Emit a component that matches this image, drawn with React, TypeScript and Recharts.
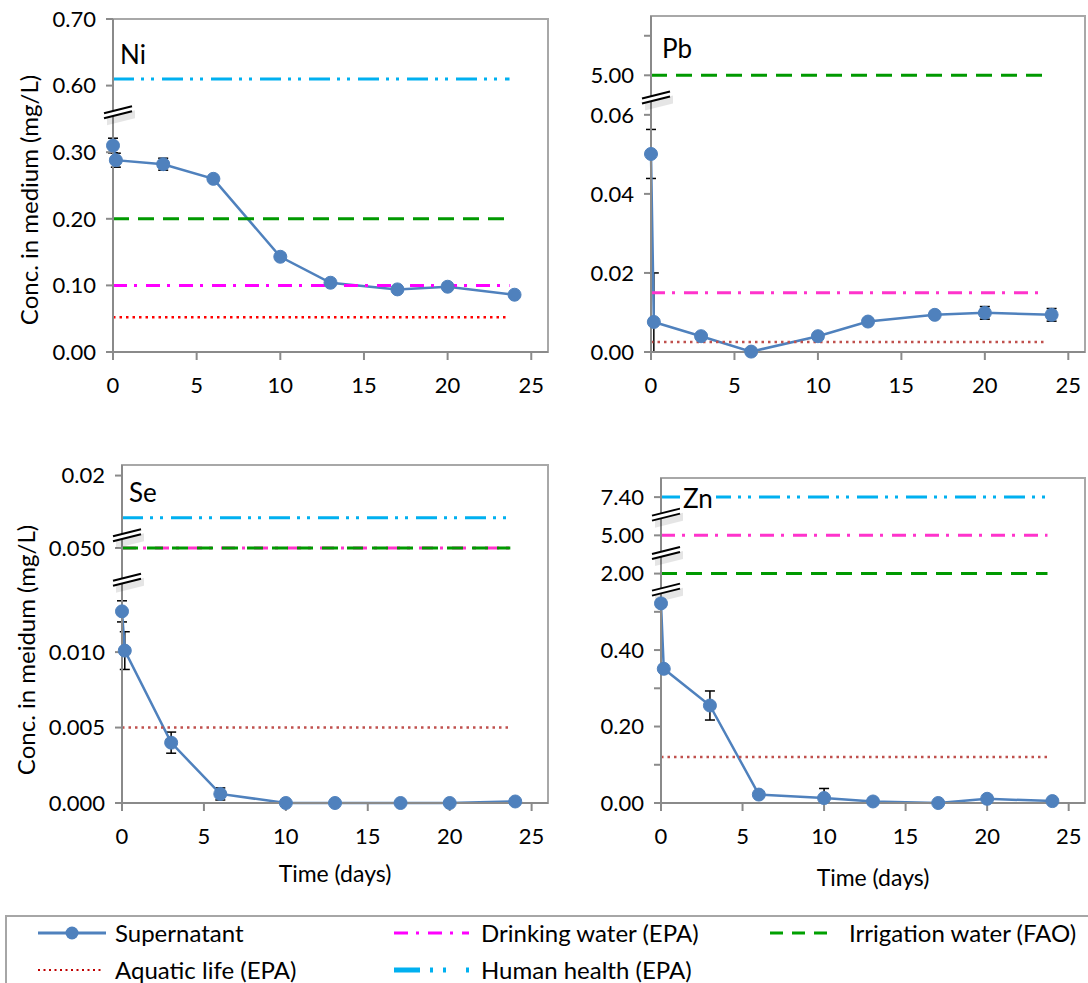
import React from 'react';
import {
  ComposedChart,
  Line,
  XAxis,
  YAxis,
  ReferenceLine,
  ReferenceArea,
  ReferenceDot,
  ErrorBar,
} from 'recharts';

// ---------------- data ----------------
const times = [0, 0.17, 3, 6, 10, 13, 17, 20, 24];
const dayTicks = [0, 5, 10, 15, 20, 25];
const limitEnd = 23.7;

const niValues = [0.31, 0.288, 0.282, 0.26, 0.143, 0.104, 0.094, 0.098, 0.086];
const niErrors = [0.011, 0.0105, 0.009, 0.003, 0.005, 0.003, 0.003, 0.005, 0.003];
const niTicks = [0, 0.1, 0.2, 0.3, 0.6, 0.7];
const niTickLabels = ['0.00', '0.10', '0.20', '0.30', '0.60', '0.70'];
const niLimits = { human: 0.61, drinking: 0.1, irrigation: 0.2, aquatic: 0.052 };
const niKnots = [[0, 0], [0.36, 3.6], [0.6, 4], [0.7, 5]];
const niBreaks = [0.36];

const pbValues = [0.0501, 0.0076, 0.004, 0.0001, 0.004, 0.0077, 0.0094, 0.0099, 0.0094];
const pbErrors = [0.0062, 0.0124, 0.0004, 0.0002, 0.0006, 0.0004, 0.0008, 0.0016, 0.0016];
const pbTicks = [0, 0.02, 0.04, 0.06, 5, 6];
const pbTickLabels = ['0.00', '0.02', '0.04', '0.06', '5.00', ''];
const pbLimits = { drinking: 0.015, irrigation: 5.0, aquatic: 0.0025 };
const pbKnots = [[0, 0], [0.0644, 3.22], [5, 3.5], [6, 4], [6.5, 4.25]];
const pbBreaks = [0.0644];

const seValues = [0.0127, 0.0101, 0.004, 0.0006, 0.0, 0.0, 0.0, 0.0, 0.0001];
const seErrors = [0.0007, 0.00125, 0.0007, 0.0004, 0, 0, 0, 0, 0];
const seTicks = [0, 0.005, 0.01, 0.05, 0.2];
const seTickLabels = ['0.000', '0.005', '0.010', '0.050', '0.02'];
const seLimits = { human: 0.17, drinking: 0.05, irrigation: 0.05, aquatic: 0.005 };
const seKnots = [[0, 0], [0.0148, 2.96], [0.05, 3.38], [0.17, 3.78], [0.2, 4.34], [0.21, 4.48]];
const seBreaks = [0.0148, 0.101];

const znValues = [0.522, 0.351, 0.255, 0.022, 0.013, 0.004, 0.0, 0.011, 0.005];
const znErrors = [0.01, 0.005, 0.038, 0.003, 0.025, 0.003, 0.002, 0.008, 0.003];
const znTicks = [0, 0.1, 0.2, 0.3, 0.4, 0.5, 2, 5, 7.4];
const znTickLabels = ['0.00', '', '0.20', '', '0.40', '', '2.00', '5.00', '7.40'];
const znLimits = { human: 7.4, drinking: 5.0, irrigation: 2.0, aquatic: 0.12 };
const znKnots = [[0, 0], [0.558, 5.58], [2, 6], [5, 7], [7.4, 8], [8.6, 8.5]];
const znBreaks = [0.558, 3.62, 6.3];

// ---------------- styles ----------------
const FONT = "Lato, 'Open Sans', 'DejaVu Sans', sans-serif";
const BLUE = '#4f81bd';
const AXIS = '#8a8a8a';
const limitStyle: Record<string, { color: string; dash: string; width: number }> = {
  human: { color: '#00b0f0', dash: '21 7 3 7 3 8', width: 3 },
  drinking: { color: '#ff33cc', dash: '14 7 3 9', width: 3 },
  irrigation: { color: '#009900', dash: '16 9', width: 3 },
  aquatic: { color: '#c0504d', dash: '2.5 4', width: 2.5 },
};
const limitOrder = ['human', 'drinking', 'irrigation', 'aquatic'];

function toAxis(knots: number[][], v: number): number {
  for (let i = 0; i < knots.length - 1; i++) {
    const [v0, a0] = knots[i];
    const [v1, a1] = knots[i + 1];
    if (v <= v1 || i === knots.length - 2) return a0 + ((v - v0) * (a1 - a0)) / (v1 - v0);
  }
  return 0;
}

const BreakShape = (props: any) => {
  const { cx, cy } = props;
  if (cx == null || cy == null) return <g />;
  const x0 = cx - 9;
  const x1 = cx + 19;
  return (
    <g>
      <polygon
        points={`${x0 + 3},${cy + 5} ${x1 + 3},${cy - 2} ${x1 + 3},${cy + 6} ${x0 + 3},${cy + 13}`}
        fill="#000"
        opacity={0.1}
      />
      <polygon points={`${x0},${cy + 1} ${x1},${cy - 6} ${x1},${cy - 1} ${x0},${cy + 6}`} fill="#fff" />
      <line x1={x0} y1={cy + 1} x2={x1} y2={cy - 6} stroke="#000" strokeWidth={2} />
      <line x1={x0} y1={cy + 6} x2={x1} y2={cy - 1} stroke="#000" strokeWidth={2} />
    </g>
  );
};

type PanelProps = {
  values: number[];
  errors: number[];
  ticks: number[];
  tickLabels: string[];
  limits: Record<string, number>;
  knots: number[][];
  breaks: number[];
  colors?: Record<string, string>;
  left: number;
  top: number;
  width: number;
  height: number;
  margin: { top: number; right: number; bottom: number; left: number };
};

function Panel(p: PanelProps) {
  const data = times.map((t, i) => {
    const y = toAxis(p.knots, p.values[i]);
    const lo = Math.max(0, toAxis(p.knots, p.values[i] - p.errors[i]));
    const hi = toAxis(p.knots, p.values[i] + p.errors[i]);
    return { t, y, err: [y - lo, hi - y] };
  });
  const topIdx = p.knots[p.knots.length - 1][1];
  const tickIdx = p.ticks.map((v) => toAxis(p.knots, v));
  const fmt = (v: number) => {
    const k = tickIdx.findIndex((x) => Math.abs(x - v) < 1e-6);
    return k >= 0 ? p.tickLabels[k] : '';
  };
  return (
    <div style={{ position: 'absolute', left: p.left, top: p.top }}>
      <ComposedChart width={p.width} height={p.height} data={data} margin={p.margin}>
        <XAxis
          dataKey="t"
          type="number"
          domain={[0, 26]}
          ticks={dayTicks}
          interval={0}
          height={40}
          tickSize={8}
          tickMargin={17}
          axisLine={{ stroke: AXIS, strokeWidth: 2 }}
          tickLine={{ stroke: AXIS, strokeWidth: 2 }}
          tick={{ fontSize: 22, fill: '#000', fontFamily: FONT }}
        />
        <YAxis
          type="number"
          domain={[0, topIdx]}
          ticks={tickIdx}
          interval={0}
          width={100}
          tickSize={7}
          tickMargin={10}
          tickFormatter={fmt}
          axisLine={{ stroke: AXIS, strokeWidth: 2 }}
          tickLine={{ stroke: AXIS, strokeWidth: 2 }}
          tick={{ fontSize: 22, fill: '#000', fontFamily: FONT }}
        />
        <ReferenceArea
          x1={0}
          x2={26}
          y1={0}
          y2={topIdx}
          fill="none"
          stroke="#a8a8a8"
          strokeWidth={2}
          ifOverflow="visible"
        />
        <Line
          dataKey="y"
          stroke={BLUE}
          strokeWidth={2.5}
          dot={{ r: 6.5, fill: BLUE, stroke: BLUE, strokeWidth: 1 }}
          activeDot={false}
          isAnimationActive={false}
        >
          <ErrorBar dataKey="err" direction="y" width={5} stroke="#000" strokeWidth={1.5} />
        </Line>
        {limitOrder
          .filter((k) => p.limits[k] !== undefined)
          .map((k) => {
            const y = toAxis(p.knots, p.limits[k]);
            const st = limitStyle[k];
            const color = (p.colors && p.colors[k]) || st.color;
            return (
              <ReferenceLine
                key={k}
                segment={[
                  { x: 0, y },
                  { x: limitEnd, y },
                ]}
                stroke={color}
                strokeWidth={st.width}
                strokeDasharray={st.dash}
                ifOverflow="visible"
              />
            );
          })}
        {p.breaks.map((b, i) => (
          <ReferenceDot
            key={'b' + i}
            x={0}
            y={toAxis(p.knots, b)}
            r={1}
            ifOverflow="visible"
            shape={BreakShape}
          />
        ))}
      </ComposedChart>
    </div>
  );
}

const textBase: React.CSSProperties = {
  position: 'absolute',
  fontFamily: FONT,
  color: '#000',
  whiteSpace: 'nowrap',
  lineHeight: 1,
};

const legendColors: Record<string, string> = {
  drinking: '#ff00ff',
  irrigation: '#00a000',
  aquatic: '#c00000',
  human: '#00b0f0',
};
const legendDashes: Record<string, string> = {
  drinking: '14 8 3 9',
  irrigation: '13 9',
  aquatic: '2 3.5',
  human: '26 10 3 10 3 20',
};
const legendWidths: Record<string, number> = { drinking: 3, irrigation: 3, aquatic: 2, human: 5 };

const LegendIcon = ({ kind, w }: { kind: string; w: number }) => {
  if (kind === 'supernatant') {
    return (
      <svg width={w} height={16} style={{ display: 'block' }}>
        <line x1={0} y1={8} x2={w} y2={8} stroke={BLUE} strokeWidth={3} />
        <circle cx={w / 2} cy={8} r={6.5} fill={BLUE} />
      </svg>
    );
  }
  return (
    <svg width={w} height={16} style={{ display: 'block' }}>
      <line
        x1={0}
        y1={8}
        x2={w}
        y2={8}
        stroke={legendColors[kind]}
        strokeWidth={legendWidths[kind]}
        strokeDasharray={legendDashes[kind]}
      />
    </svg>
  );
};

const legendItems = [
  { kind: 'supernatant', label: 'Supernatant', x: 38, y: 933, iconW: 68, textX: 115 },
  { kind: 'drinking', label: 'Drinking water (EPA)', x: 394, y: 933, iconW: 75, textX: 481 },
  { kind: 'irrigation', label: 'Irrigation water (FAO)', x: 770, y: 933, iconW: 57, textX: 849 },
  { kind: 'aquatic', label: 'Aquatic life (EPA)', x: 38, y: 970, iconW: 66, textX: 115 },
  { kind: 'human', label: 'Human health (EPA)', x: 394, y: 970, iconW: 75, textX: 481 },
];

export default function App() {
  return (
    <div
      style={{
        position: 'absolute',
        left: 0,
        top: 0,
        width: 1088,
        height: 983,
        overflow: 'hidden',
        background: '#fff',
        fontFamily: FONT,
      }}
    >
      <Panel
        values={niValues}
        errors={niErrors}
        ticks={niTicks}
        tickLabels={niTickLabels}
        limits={niLimits}
        knots={niKnots}
        breaks={niBreaks}
        colors={{ drinking: '#ff00ff', aquatic: '#ff0000' }}
        left={0}
        top={0}
        width={560}
        height={400}
        margin={{ top: 19, right: 12, bottom: 8, left: 13 }}
      />
      <Panel
        values={pbValues}
        errors={pbErrors}
        ticks={pbTicks}
        tickLabels={pbTickLabels}
        limits={pbLimits}
        knots={pbKnots}
        breaks={pbBreaks}
        left={540}
        top={0}
        width={548}
        height={400}
        margin={{ top: 16, right: 3, bottom: 8, left: 11 }}
      />
      <Panel
        values={seValues}
        errors={seErrors}
        ticks={seTicks}
        tickLabels={seTickLabels}
        limits={seLimits}
        knots={seKnots}
        breaks={seBreaks}
        left={0}
        top={440}
        width={560}
        height={450}
        margin={{ top: 25, right: 12, bottom: 47, left: 22 }}
      />
      <Panel
        values={znValues}
        errors={znErrors}
        ticks={znTicks}
        tickLabels={znTickLabels}
        limits={znLimits}
        knots={znKnots}
        breaks={znBreaks}
        left={540}
        top={440}
        width={548}
        height={450}
        margin={{ top: 38, right: 3, bottom: 47, left: 21 }}
      />

      {/* panel labels */}
      <div style={{ ...textBase, left: 120, top: 41, fontSize: 26 }}>Ni</div>
      <div style={{ ...textBase, left: 662, top: 35, fontSize: 26 }}>Pb</div>
      <div style={{ ...textBase, left: 129, top: 479, fontSize: 26 }}>Se</div>
      <div style={{ ...textBase, left: 680, top: 485, fontSize: 26, background: '#fff', padding: '0 3px' }}>Zn</div>

      {/* axis titles */}
      <div
        style={{
          ...textBase,
          left: 29,
          top: 200,
          fontSize: 24,
          transform: 'translate(-50%, -50%) rotate(-90deg)',
        }}
      >
        Conc. in medium (mg/L)
      </div>
      <div
        style={{
          ...textBase,
          left: 26,
          top: 650,
          fontSize: 24,
          transform: 'translate(-50%, -50%) rotate(-90deg)',
        }}
      >
        Conc. in meidum (mg/L)
      </div>
      <div style={{ ...textBase, left: 335, top: 873, fontSize: 23, transform: 'translate(-50%, -50%)' }}>
        Time (days)
      </div>
      <div style={{ ...textBase, left: 873, top: 877, fontSize: 23, transform: 'translate(-50%, -50%)' }}>
        Time (days)
      </div>

      {/* legend */}
      <div
        style={{
          position: 'absolute',
          left: 5,
          top: 915,
          width: 1110,
          height: 100,
          border: '2px solid #a6a6a6',
          boxSizing: 'border-box',
        }}
      />
      {legendItems.map((it) => (
        <React.Fragment key={it.label}>
          <div style={{ position: 'absolute', left: it.x, top: it.y - 8 }}>
            <LegendIcon kind={it.kind} w={it.iconW} />
          </div>
          <div style={{ ...textBase, left: it.textX, top: it.y, fontSize: 24, transform: 'translateY(-50%)' }}>
            {it.label}
          </div>
        </React.Fragment>
      ))}
    </div>
  );
}
